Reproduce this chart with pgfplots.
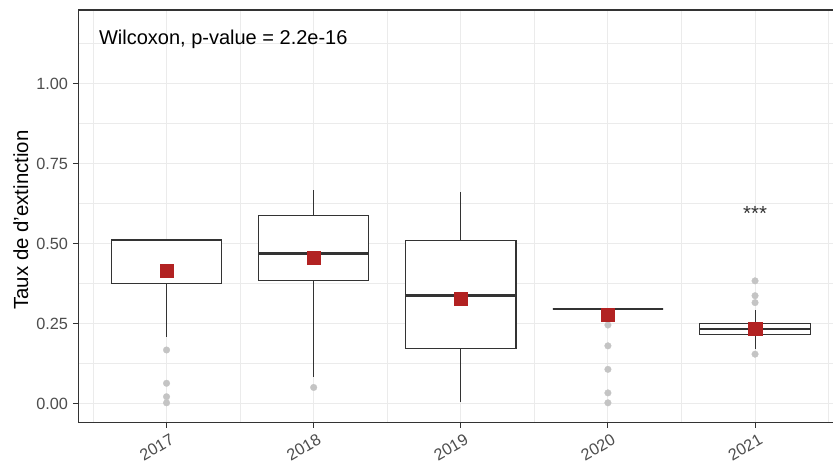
\documentclass[border=0pt]{standalone}
\usepackage{fontspec}
\setmainfont{Liberation Sans}
\usepackage{pgfplots}
\pgfplotsset{compat=1.18}
\usepgfplotslibrary{statistics}
\definecolor{grey20}{HTML}{333333}
\definecolor{grey30}{HTML}{4D4D4D}
\definecolor{grey92}{HTML}{EBEBEB}
\definecolor{outl}{HTML}{C4C4C4}
\definecolor{firebrick}{HTML}{B22222}
\begin{document}
\begin{tikzpicture}
\useasboundingbox (0,0) rectangle (624.75pt,348pt);
\begin{axis}[
  at={(58.7pt,31pt)}, anchor=south west,
  scale only axis, width=573.8pt, height=309.5pt,
  xmin=0.4, xmax=5.6, ymin=-0.059, ymax=1.23,
  axis line style={grey20, line width=0.8pt},
  xtick={1,2,3,4,5}, xticklabels={2017,2018,2019,2020,2021},
  ytick={0,0.25,0.5,0.75,1}, yticklabels={0.00,0.25,0.50,0.75,1.00},
  minor xtick={0.5,1.5,2.5,3.5,4.5,5.5},
  minor ytick={0.125,0.375,0.625,0.875,1.125},
  grid=both,
  major grid style={draw=grey92, line width=0.8pt},
  minor grid style={draw=grey92, line width=0.5pt},
  tick align=outside, major tick length=4pt, minor tick length=0pt,
  tick style={grey20, line width=0.8pt},
  tick pos=left,
  ticklabel style={font=\fontsize{12.2}{14}\selectfont, text=grey30},
  yticklabel style={inner sep=1pt, xshift=-2.5pt},
  xticklabel style={rotate=30, anchor=north east, inner sep=1pt, yshift=-3.5pt, xshift=1pt},
  ylabel={Taux de d'extinction},
  every axis y label/.style={at={(axis description cs:-0.0749,0.491)}, rotate=90, anchor=center, font=\fontsize{15.3}{18}\selectfont},
  boxplot/draw direction=y,
  boxplot/box extend=0.75,
  boxplot/whisker extend=0,
  boxplot/every median/.style={line width=1.9pt},
]
\addplot[boxplot prepared={draw position=1, lower whisker=0.209, lower quartile=0.376, median=0.511, upper quartile=0.511, upper whisker=0.511}, draw=grey20, fill=white, line width=0.8pt] coordinates {};
\addplot[boxplot prepared={draw position=2, lower whisker=0.084, lower quartile=0.384, median=0.469, upper quartile=0.5875, upper whisker=0.668}, draw=grey20, fill=white, line width=0.8pt] coordinates {};
\addplot[boxplot prepared={draw position=3, lower whisker=0.006, lower quartile=0.172, median=0.339, upper quartile=0.511, upper whisker=0.6625}, draw=grey20, fill=white, line width=0.8pt] coordinates {};
\addplot[boxplot prepared={draw position=4, lower whisker=0.296, lower quartile=0.296, median=0.296, upper quartile=0.296, upper whisker=0.296}, draw=grey20, fill=white, line width=0.8pt] coordinates {};
\addplot[boxplot prepared={draw position=5, lower whisker=0.170, lower quartile=0.216, median=0.233, upper quartile=0.250, upper whisker=0.294}, draw=grey20, fill=white, line width=0.8pt] coordinates {};
\addplot[only marks, color=outl, mark=*, mark size=2.5pt, mark options={draw=outl, fill=outl, line width=0.2pt}] coordinates {
(1,0.168)(1,0.064)(1,0.022)(1,0.003)(2,0.051)(4,0.246)(4,0.181)(4,0.1075)(4,0.034)(4,0.003)(5,0.384)(5,0.3375)(5,0.316)(5,0.155)};
\addplot[only marks, color=firebrick, mark=square*, mark size=5pt, mark options={draw=firebrick, fill=firebrick, line width=0.2pt}] coordinates {
(1,0.415)(2,0.456)(3,0.329)(4,0.278)(5,0.234)};
\node[anchor=base west, inner sep=0pt, font=\fontsize{15}{18}\selectfont] at (axis cs:0.5395,1.121) {Wilcoxon, p-value = 2.2e-16};
\node[inner sep=0pt, font=\fontsize{15.3}{18}\selectfont, text=grey20] at (axis cs:5,0.595) {***};
\end{axis}
\end{tikzpicture}
\end{document}
